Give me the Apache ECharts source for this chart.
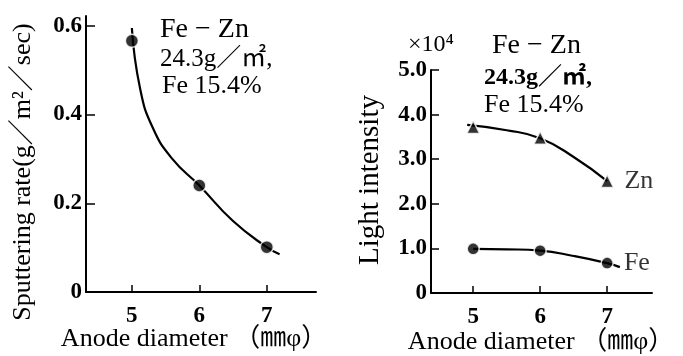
<!DOCTYPE html>
<html>
<head>
<meta charset="utf-8">
<script src="https://cdn.jsdelivr.net/npm/echarts@6/dist/echarts.min.js"></script>
<style>html,body{margin:0;padding:0;background:#fff;}#c{width:683px;height:356px;}</style>
</head>
<body>
<div id="c"></div>
<script>
// ---- data ----
const xTicks = [5, 6, 7];
const rateYTicks = [0, 0.2, 0.4, 0.6];
const lightYTicks = [0, 1, 2, 3, 4, 5];

// Left: sputtering rate (g/m2/sec)
const rateX = [5, 6, 7];
const rateY = [0.566, 0.240, 0.101];
const rateCurveX = [5.0, 5.12, 5.31, 5.6, 6.0, 6.5, 7.0, 7.19];
const rateCurveY = [0.595, 0.46, 0.37, 0.30, 0.24, 0.16, 0.101, 0.085];

// Right: light intensity (x10^4)
const znX = [5, 6, 7];
const znY = [3.72, 3.48, 2.51];
const znCurveX = [4.91, 5.5, 6.0, 6.5, 7.0];
const znCurveY = [3.77, 3.65, 3.47, 3.05, 2.51];

const feX = [5, 6, 7];
const feY = [0.99, 0.95, 0.67];
const feCurveX = [5.0, 5.5, 6.0, 6.5, 7.0, 7.19];
const feCurveY = [0.99, 0.98, 0.95, 0.83, 0.67, 0.58];

const zip = (a, b) => a.map((v, i) => [v, b[i]]);
const SERIF = '"Liberation Serif","DejaVu Serif","Noto Sans CJK JP",serif';

const chart = echarts.init(document.getElementById('c'), null, {renderer: 'canvas'});

function xAx(grid, min, max) {
  return {
    gridIndex: grid, type: 'value', min: min, max: max,
    axisLine: {show: true, onZero: false, lineStyle: {color: '#000', width: 2}},
    axisTick: {show: true, inside: true, length: 7, customValues: xTicks, lineStyle: {color: '#000', width: 1.5}},
    axisLabel: {customValues: xTicks, color: '#000', fontFamily: SERIF, fontWeight: 'bold', fontSize: 23, margin: 13},
    splitLine: {show: false}
  };
}
function yAx(grid, min, max, ticks, len) {
  return {
    gridIndex: grid, type: 'value', min: min, max: max,
    axisLine: {show: true, onZero: false, lineStyle: {color: '#000', width: 2}},
    axisTick: {show: true, inside: true, length: len, customValues: ticks, lineStyle: {color: '#000', width: 1.5}},
    axisLabel: {customValues: ticks, color: '#000', fontFamily: SERIF, fontWeight: 'bold', fontSize: 23, margin: 4,
      formatter: v => (v === 0 ? '0' : v.toFixed(1))},
    splitLine: {show: false}
  };
}

const curveStyle = {color: '#000', width: 2.2};
const markStyle = {color: '#000', borderColor: '#fff', borderWidth: 1.5};

chart.setOption({
  animation: false,
  backgroundColor: '#fff',
  grid: [
    {left: 86, right: 367, top: 16, bottom: 64},
    {left: 431, right: 31, top: 70, bottom: 63}
  ],
  xAxis: [xAx(0, 4.32, 7.73), xAx(1, 4.37, 7.67)],
  yAxis: [yAx(0, 0, 0.622, rateYTicks, 9), yAx(1, 0, 5, lightYTicks, 8)],
  series: [
    {type: 'line', xAxisIndex: 0, yAxisIndex: 0, data: zip(rateCurveX, rateCurveY), smooth: true,
      showSymbol: false, lineStyle: curveStyle, z: 2},
    {type: 'scatter', xAxisIndex: 0, yAxisIndex: 0, data: zip(rateX, rateY), symbol: 'circle', symbolSize: 13,
      itemStyle: markStyle, z: 3},
    {type: 'line', name: 'Zn', xAxisIndex: 1, yAxisIndex: 1, data: zip(znCurveX, znCurveY), smooth: true,
      showSymbol: false, lineStyle: curveStyle, z: 2},
    {type: 'scatter', name: 'Zn', xAxisIndex: 1, yAxisIndex: 1, data: zip(znX, znY), symbol: 'triangle', symbolSize: 13,
      itemStyle: markStyle, z: 3,
      label: {show: true, position: 'right', distance: 10, color: '#000', fontFamily: SERIF, fontSize: 26,
        formatter: p => (p.dataIndex === znX.length - 1 ? 'Zn' : '')}},
    {type: 'line', name: 'Fe', xAxisIndex: 1, yAxisIndex: 1, data: zip(feCurveX, feCurveY), smooth: true,
      showSymbol: false, lineStyle: curveStyle, z: 2},
    {type: 'scatter', name: 'Fe', xAxisIndex: 1, yAxisIndex: 1, data: zip(feX, feY), symbol: 'circle', symbolSize: 12,
      itemStyle: markStyle, z: 3,
      label: {show: true, position: 'right', distance: 10, color: '#000', fontFamily: SERIF, fontSize: 26,
        formatter: p => (p.dataIndex === feX.length - 1 ? 'Fe' : '')}}
  ],
  graphic: [
    // left panel texts
    {type: 'text', x: 160, y: 30, style: {text: 'Fe − Zn', fill: '#000', font: '28px ' + SERIF, textVerticalAlign: 'middle'}},
    {type: 'text', x: 160, y: 59, style: {text: '24.3g／㎡,', fill: '#000', font: '25px ' + SERIF, textVerticalAlign: 'middle'}},
    {type: 'text', x: 162, y: 86, style: {text: 'Fe 15.4%', fill: '#000', font: '26px ' + SERIF, textVerticalAlign: 'middle'}},
    {type: 'text', x: 23, y: 172, rotation: Math.PI / 2,
      style: {text: 'Sputtering rate(g／m²／sec)', fill: '#000', font: '26px ' + SERIF, textAlign: 'center', textVerticalAlign: 'middle'}},
    {type: 'text', x: 194, y: 339,
      style: {text: 'Anode diameter （㎜φ）', fill: '#000', font: '26px ' + SERIF, textAlign: 'center', textVerticalAlign: 'middle'}},
    // right panel texts
    {type: 'text', x: 408, y: 45, style: {text: '×10⁴', fill: '#000', font: '24px ' + SERIF, textVerticalAlign: 'middle'}},
    {type: 'text', x: 492, y: 46, style: {text: 'Fe − Zn', fill: '#000', font: '28px ' + SERIF, textVerticalAlign: 'middle'}},
    {type: 'text', x: 484, y: 78, style: {text: '24.3g／㎡,', fill: '#000', font: 'bold 24px ' + SERIF, textVerticalAlign: 'middle'}},
    {type: 'text', x: 484, y: 105, style: {text: 'Fe 15.4%', fill: '#000', font: '26px ' + SERIF, textVerticalAlign: 'middle'}},
    {type: 'text', x: 370, y: 180, rotation: Math.PI / 2,
      style: {text: 'Light intensity', fill: '#000', font: '29px ' + SERIF, textAlign: 'center', textVerticalAlign: 'middle'}},
    {type: 'text', x: 541, y: 342,
      style: {text: 'Anode diameter （㎜φ）', fill: '#000', font: '26px ' + SERIF, textAlign: 'center', textVerticalAlign: 'middle'}}
  ]
});
</script>
</body>
</html>
